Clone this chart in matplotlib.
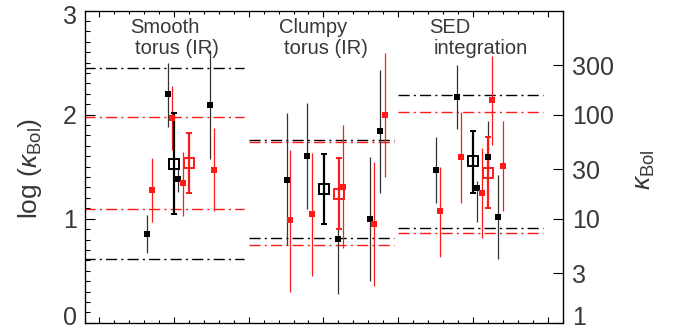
import matplotlib
matplotlib.use('Agg')
import matplotlib.pyplot as plt
from matplotlib.ticker import MultipleLocator, FixedLocator, NullLocator, FixedFormatter
from matplotlib.transforms import ScaledTranslation

plt.rcParams['font.family'] = ['Liberation Sans', 'DejaVu Sans']
plt.rcParams['mathtext.fontset'] = 'custom'
plt.rcParams['mathtext.rm'] = 'Liberation Sans'
plt.rcParams['mathtext.it'] = 'Liberation Sans:italic'

# ---------------- data (log kappa_Bol) ----------------
# group labels
group_line1 = ['Smooth', 'Clumpy', 'SED']
group_line2 = ['torus (IR)', 'torus (IR)', 'integration']
group_start = [-0.2, 2.0, 4.0]
group_end = [1.94, 3.94, 5.94]

# horizontal reference levels per group
black_hi = [2.45, 1.757, 2.19]
black_lo = [0.61, 0.817, 0.91]
red_hi = [1.975, 1.74, 2.026]
red_lo = [1.093, 0.747, 0.86]

# individual black points
bs_x = [0.643, 0.924, 1.056, 1.482, 2.507, 2.785, 3.20, 3.628, 3.762,
        4.503, 4.784, 5.06, 5.207, 5.341]
bs_y = [0.85, 2.196, 1.379, 2.09, 1.369, 1.60, 0.802, 0.994, 1.84,
        1.465, 2.167, 1.292, 1.59, 1.013]
bs_lo = [0.667, 1.885, 1.26, 1.571, 0.747, 1.09, 0.273, 0.40, 1.244,
         1.148, 1.86, 0.965, 1.45, 0.61]
bs_hi = [1.036, 2.494, 1.485, 2.62, 2.018, 2.11, 0.90, 1.59, 2.43,
         1.783, 2.478, 1.36, 1.94, 1.42]

# individual red points
rs_x = [0.70, 0.969, 1.124, 1.54, 2.557, 2.843, 3.266, 3.681, 3.829,
        4.565, 4.846, 5.127, 5.261, 5.408]
rs_y = [1.273, 1.965, 1.34, 1.465, 0.985, 1.042, 1.302, 0.946, 1.994,
        1.071, 1.59, 1.244, 2.138, 1.504]
rs_lo = [0.971, 1.66, 1.026, 1.077, 0.298, 0.449, 0.715, 0.356, 1.404,
         0.635, 1.154, 0.817, 1.709, 1.077]
rs_hi = [1.581, 2.276, 1.644, 1.869, 1.66, 1.629, 1.90, 1.542, 2.59,
         1.50, 2.029, 1.677, 2.56, 1.94]

# group means (open squares)
bm_x = [1.0, 3.004, 5.007]
bm_y = [1.526, 1.283, 1.552]
bm_lo = [1.045, 0.949, 1.25]
bm_hi = [2.013, 1.622, 1.846]

rm_x = [1.205, 3.205, 5.203]
rm_y = [1.533, 1.24, 1.442]
rm_lo = [1.244, 0.901, 1.103]
rm_hi = [1.827, 1.587, 1.783]

# axis ticks
kappa_ticks = [1, 3, 10, 30, 100, 300]
kappa_labels = ['1', '3', '10', '30', '100', '300']
left_ticks = [0, 1, 2, 3]

RED = '#ff1a1a'
TXT = '#383838'

fig = plt.figure(figsize=(6.8, 3.3), dpi=100)
ax = fig.add_axes([85 / 680, 1 - 322.7 / 330, (563.3 - 85) / 680, (322.7 - 10.7) / 330])
ax.set_xlim(-0.19, 6.21)
ax.set_ylim(0, 3)

dd = (0, (8, 3, 1.5, 3))
for s, e, bh, bl, rh, rl in zip(group_start, group_end, black_hi, black_lo, red_hi, red_lo):
    ax.plot([s, e], [bh, bh], color='k', lw=1.0, ls=dd)
    ax.plot([s, e], [bl, bl], color='k', lw=1.0, ls=dd)
    ax.plot([s, e], [rh, rh], color=RED, lw=1.0, ls=dd)
    ax.plot([s, e], [rl, rl], color=RED, lw=1.0, ls=dd)


def err(y, lo, hi):
    return [[a - b for a, b in zip(y, lo)], [c - a for a, c in zip(y, hi)]]


ax.errorbar(bs_x, bs_y, yerr=err(bs_y, bs_lo, bs_hi), fmt='s', ms=3.8, color='k',
            ecolor='#333333', elinewidth=0.9, capsize=0, mew=0)
ax.errorbar(rs_x, rs_y, yerr=err(rs_y, rs_lo, rs_hi), fmt='s', ms=3.8, color=RED,
            ecolor=RED, elinewidth=0.9, capsize=0, mew=0)
ax.errorbar(bm_x, bm_y, yerr=err(bm_y, bm_lo, bm_hi), fmt='s', ms=7.5, mfc='none',
            mec='k', mew=1.4, ecolor='k', elinewidth=1.6, capsize=2.3, capthick=1.4)
ax.errorbar(rm_x, rm_y, yerr=err(rm_y, rm_lo, rm_hi), fmt='s', ms=7.5, mfc='none',
            mec=RED, mew=1.4, ecolor=RED, elinewidth=1.6, capsize=2.3, capthick=1.4)

for i in range(3):
    x0 = group_start[i] if i > 0 else 0.0
    ax.text(x0 + 0.41, 2.785, group_line1[i], fontsize=14.5, color=TXT, ha='left', va='baseline')
    ax.text(x0 + 0.475, 2.585, group_line2[i], fontsize=14.5, color=TXT, ha='left', va='baseline')

ax.xaxis.set_major_locator(MultipleLocator(1))
ax.xaxis.set_minor_locator(MultipleLocator(0.2))
ax.tick_params(axis='x', which='major', direction='in', length=4.3, width=0.8,
               top=True, bottom=True, labelbottom=False)
ax.tick_params(axis='x', which='minor', direction='in', length=2.2, width=0.8,
               top=True, bottom=True)
ax.yaxis.set_major_locator(FixedLocator(left_ticks))
ax.yaxis.set_minor_locator(MultipleLocator(0.1))
ax.tick_params(axis='y', which='major', direction='in', length=7, width=0.8,
               left=True, right=False, labelsize=18, labelcolor=TXT, pad=6)
ax.tick_params(axis='y', which='minor', direction='in', length=3.5, width=0.8,
               left=True, right=False)
for sp in ax.spines.values():
    sp.set_linewidth(0.9)

ax2 = ax.twinx()
ax2.set_yscale('log')
ax2.set_ylim(1, 1000)
ax2.yaxis.set_major_locator(FixedLocator(kappa_ticks))
ax2.yaxis.set_major_formatter(FixedFormatter(kappa_labels))
ax2.yaxis.set_minor_locator(NullLocator())
ax2.tick_params(axis='y', which='major', direction='in', length=7, width=0.8,
                labelsize=18, labelcolor=TXT, pad=6)

# nudge edge tick labels inside the figure, as in the reference
fig.canvas.draw()
def nudge(lbl, dy_px):
    lbl.set_transform(lbl.get_transform() + ScaledTranslation(0, dy_px / 100, fig.dpi_scale_trans))

lticks = ax.yaxis.get_major_ticks()
nudge(lticks[0].label1, 7)
nudge(lticks[-1].label1, -4)
rticks = ax2.yaxis.get_major_ticks()
nudge(rticks[0].label2, 7)

fig.text(30 / 680, 1 - 168 / 330, r'log ($\kappa_{\rm Bol}$)', rotation=90,
         ha='center', va='center', fontsize=19, color=TXT)
fig.text(645 / 680, 1 - 170 / 330, r'$\kappa_{\rm Bol}$', rotation=90,
         ha='center', va='center', fontsize=19, color=TXT)

fig.savefig('out.png', dpi=100)
